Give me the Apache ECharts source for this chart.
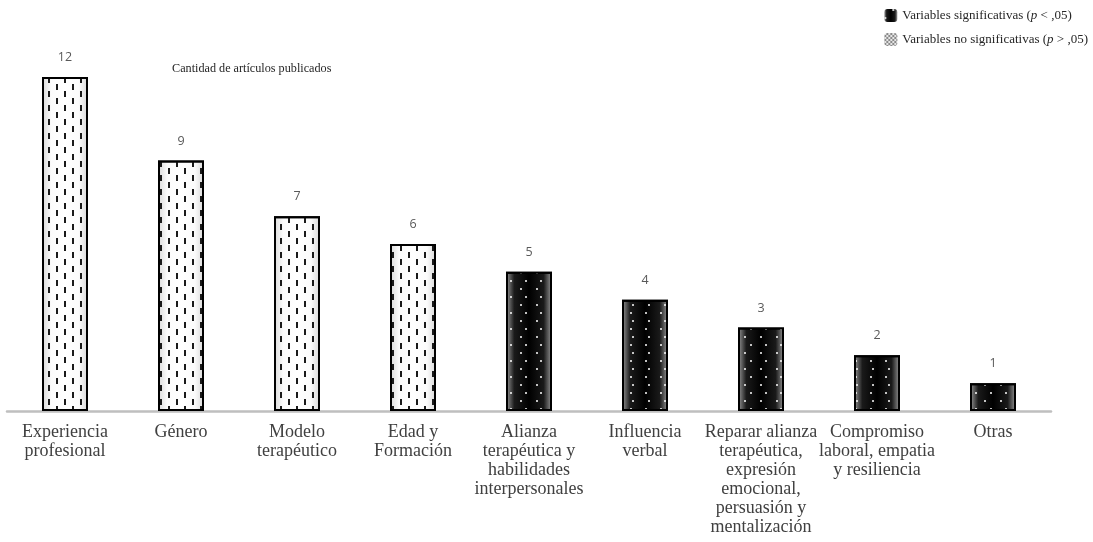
<!DOCTYPE html>
<html><head><meta charset="utf-8">
<script src="https://cdn.jsdelivr.net/npm/echarts@6/dist/echarts.min.js"></script>
<style>html,body{margin:0;padding:0;background:#fff}#c{width:1093px;height:542px}</style>
</head><body><div id="c"></div>
<script>
const categories = ["Experiencia\nprofesional","Género","Modelo\nterapéutico","Edad y\nFormación","Alianza\nterapéutica y\nhabilidades\ninterpersonales","Influencia\nverbal","Reparar alianza\nterapéutica,\nexpresión\nemocional,\npersuasión y\nmentalización","Compromiso\nlaboral, empatia\ny resiliencia","Otras"];
const noSignificativas = [12, 9, 7, 6, null, null, null, null, null];
const significativas = [null, null, null, null, 5, 4, 3, 2, 1];
const seriesNames = ["Variables significativas", "Variables no significativas"];

const chart = echarts.init(document.getElementById('c'));
const darkGrad = {type:'linear',x:0,y:0,x2:1,y2:0,colorStops:[
  {offset:0,color:'#9a9a9a'},{offset:0.18,color:'#1a1a1a'},{offset:0.5,color:'#000'},{offset:0.82,color:'#1a1a1a'},{offset:1,color:'#9a9a9a'}]};
const lightGrad = {type:'linear',x:0,y:0,x2:1,y2:0,colorStops:[
  {offset:0,color:'#d8d8d8'},{offset:0.2,color:'#fbfbfb'},{offset:0.5,color:'#fff'},{offset:0.8,color:'#fbfbfb'},{offset:1,color:'#d8d8d8'}]};
const serif = '"Liberation Serif", "Times New Roman", serif';
const sans = '"Open Sans", "Liberation Sans", sans-serif';
chart.setOption({
  animation:false,
  title:{text:'Cantidad de artículos publicados',left:167,top:58,textStyle:{fontFamily:serif,fontSize:12.2,fontWeight:'normal',color:'#262626'}},
  legend:{orient:'vertical',right:0,top:4,itemWidth:13,itemHeight:13,itemGap:11,
    itemStyle:{borderWidth:0},
    textStyle:{fontFamily:serif,fontSize:13,color:'#262626',
      rich:{a:{fontFamily:serif,fontSize:13,color:'#262626'},i:{fontFamily:serif,fontSize:13,fontStyle:'italic',color:'#262626'}}},
    formatter:function(n){return n===seriesNames[0]?'{a|Variables significativas (}{i|p}{a| < ,05)}':'{a|Variables no significativas (}{i|p}{a| > ,05)}';},
    data:[{name:seriesNames[0]},{name:seriesNames[1],itemStyle:{color:'#e6e6e6',decal:{symbol:'rect',symbolSize:1,color:'#8a8a8a',dashArrayX:[[1.5,1.5],[0,1.5,1.5,0]],dashArrayY:[1.5,0]}}}]},
  grid:{left:7,right:42,top:77,bottom:131},
  xAxis:{type:'category',data:categories,axisTick:{show:false},
    axisLine:{lineStyle:{color:'#bfbfbf',width:2.5}},
    axisLabel:{interval:0,margin:12,fontFamily:serif,fontSize:18,lineHeight:19,color:'#404040',align:'center'}},
  yAxis:{type:'value',min:0,max:12,show:false,splitLine:{show:false}},
  series:[
    {name:seriesNames[0],type:'bar',data:significativas,barWidth:46,barGap:'-100%',
      itemStyle:{color:darkGrad,borderColor:'#000',borderWidth:2,
        decal:{symbol:'circle',symbolSize:1,color:'#ffffff',dashArrayX:[[2,13],[0,7.5,2,5.5]],dashArrayY:[2,5.7],rotation:0}},
      label:{show:true,position:'top',distance:13,fontFamily:sans,fontSize:12.5,color:'#595959'}},
    {name:seriesNames[1],type:'bar',data:noSignificativas,barWidth:46,barGap:'-100%',
      itemStyle:{color:lightGrad,borderColor:'#000',borderWidth:2,
        decal:{symbol:'rect',symbolSize:1,color:'#1a1a1a',dashArrayX:[[2,13.4],[0,7.7,2,5.7]],dashArrayY:[6,1],rotation:0}},
      label:{show:true,position:'top',distance:13,fontFamily:sans,fontSize:12.5,color:'#595959'}}
  ]
});
</script></body></html>
